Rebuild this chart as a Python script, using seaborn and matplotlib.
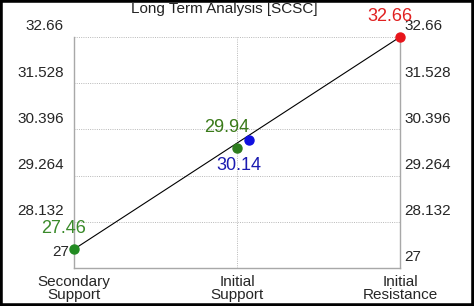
import matplotlib
matplotlib.use("Agg")
import matplotlib.pyplot as plt
from matplotlib.patches import Rectangle
from matplotlib.transforms import ScaledTranslation
import seaborn as sns
import pandas as pd

# ---- data ----
categories = ["Secondary\nSupport", "Initial\nSupport", "Initial\nResistance"]
level_values = [27.46, 29.94, 32.66]          # green, green, red points
level_colors = ["#228B22", "#2E7D1E", "#E8151B"]
level_text_colors = ["#3A8A2A", "#3A7A1A", "#E02020"]
current_value = 30.14                          # blue point
current_color = "#1010E0"
current_text_color = "#1A1AB0"
line_values = [27.46, 32.66]                   # trend line from first to last level
yticks = [27, 28.132, 29.264, 30.396, 31.528, 32.66]
ytick_labels = ["27", "28.132", "29.264", "30.396", "31.528", "32.66"]
title = "Long Term Analysis [SCSC]"

sns.set_theme(style="white")
plt.rcParams["font.family"] = ["Liberation Sans", "DejaVu Sans"]

fig = plt.figure(figsize=(4.74, 3.06), dpi=100)
ax = fig.add_axes([74 / 474, 1 - 268 / 306, 326 / 474, 231 / 306])

xpos = list(range(len(categories)))
df_line = pd.DataFrame({"x": [xpos[0], xpos[-1]], "y": line_values})
cur_x = xpos[1] + 0.075

sns.lineplot(data=df_line, x="x", y="y", ax=ax, color="black", lw=0.8, zorder=3)
for xi, yi, c in zip(xpos, level_values, level_colors):
    ax.plot([xi], [yi], "o", color=c, ms=6.5, zorder=5, clip_on=False)
ax.plot([cur_x], [current_value], "o", color=current_color, ms=6.5, zorder=5, clip_on=False)

ax.set_xlim(0, 2)
ax.set_ylim(27, 32.66)
ax.set_xticks(xpos)
ax.set_xticklabels(categories, fontsize=11, linespacing=0.95)
ax.set_yticks(yticks)
ax.set_yticklabels(ytick_labels, fontsize=11)
ax.tick_params(axis="both", length=0)
ax.tick_params(axis="x", pad=5)
ax.tick_params(axis="y", pad=3, labelright=True, labelleft=True)
ax.set_xlabel("")
ax.set_ylabel("")

# grid
ax.grid(True, which="major", axis="both", color="#b8b8b8", ls=(0, (1, 1.3)), lw=0.7)
for s in ["left", "right", "bottom"]:
    ax.spines[s].set_color("#a8a8a8")
    ax.spines[s].set_linewidth(1.0)
ax.spines["top"].set_visible(False)

# shift y tick labels upward
up = ScaledTranslation(0, 12 / 100, fig.dpi_scale_trans)
left_shift = ScaledTranslation(-6 / 100, 12 / 100, fig.dpi_scale_trans)
left_shift_bottom = ScaledTranslation(-1 / 100, 17 / 100, fig.dpi_scale_trans)
for i, t in enumerate(ax.yaxis.get_major_ticks()):
    t.label1.set_transform(t.label1.get_transform() + (left_shift_bottom if i == 0 else left_shift))
    t.label2.set_transform(t.label2.get_transform() + up)

# annotations
for xi, yi, c in zip(xpos, level_values, level_text_colors):
    ax.annotate(f"{yi:.2f}", (xi, yi), xytext=(-7.2, 15), textcoords="offset points",
                ha="center", va="center", fontsize=13, color=c, annotation_clip=False)
ax.annotate(f"{current_value:.2f}", (cur_x, current_value), xytext=(-7.2, -18.7),
            textcoords="offset points", ha="center", va="center", fontsize=13,
            color=current_text_color, annotation_clip=False)

fig.text(224 / 474, 1 - 9 / 306, title, ha="center", va="center", fontsize=11, color="#222222")

fig.add_artist(Rectangle((0, 0), 1, 1, transform=fig.transFigure, fill=False,
                         lw=4, ec="black"))

fig.savefig("out.png", dpi=100)
